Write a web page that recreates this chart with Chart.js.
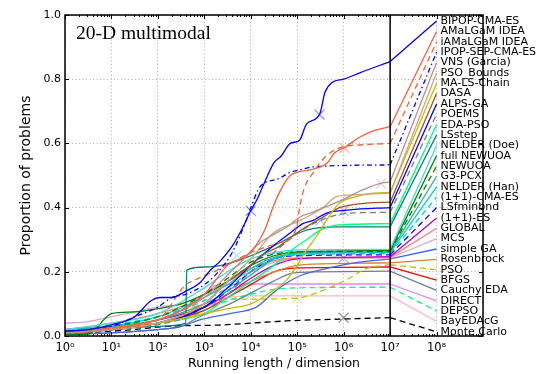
<!DOCTYPE html>
<html><head><meta charset="utf-8">
<script src="https://cdn.jsdelivr.net/npm/chart.js@4.4.0/dist/chart.umd.min.js"></script>
<style>html,body{margin:0;padding:0;background:#fff}#wrap{width:544px;height:374px;position:relative}</style>
</head><body><div id="wrap"><canvas id="c" width="544" height="374"></canvas></div>
<script>
// ---------------- data ----------------
const panelTitle = "20-D multimodal";
const xAxisTitle = "Running length / dimension";
const yAxisTitle = "Proportion of problems";
const xTickExponents = [0,1,2,3,4,5,6,7,8];
const yTickValues = [0,0.2,0.4,0.6,0.8,1.0];

const algorithms = ["BIPOP-CMA-ES","AMaLGaM IDEA","iAMaLGaM IDEA","IPOP-SEP-CMA-ES","VNS (Garcia)","PSO_Bounds","MA-LS-Chain","DASA","ALPS-GA","POEMS","EDA-PSO","LSstep","NELDER (Doe)","full NEWUOA","NEWUOA","G3-PCX","NELDER (Han)","(1+1)-CMA-ES","LSfminbnd","(1+1)-ES","GLOBAL","MCS","simple GA","Rosenbrock","PSO","BFGS","Cauchy EDA","DIRECT","DEPSO","BayEDAcG","Monte Carlo"];

// each entry: [log10(evaluations/dimension), proportion]
const BIPOP = [[0,.015],[0.5,.02],[1,.035],[1.5,.06],[1.85,.11],[2.05,.12],[2.3,.12],[2.6,.14],[2.9,.165],[3.1,.2],[3.35,.235],[3.6,.28],[3.8,.33],[4,.39],[4.15,.43],[4.3,.48],[4.5,.54],[4.65,.56],[4.85,.6],[5.05,.61],[5.2,.66],[5.48,.69],[5.6,.76],[5.75,.79],[6,.80],[6.35,.82],[7,.855]];
const AMALGAM = [[0,.015],[1,.025],[2,.05],[2.5,.08],[3,.13],[3.5,.22],[3.9,.25],[4.1,.28],[4.3,.33],[4.5,.41],[4.7,.47],[4.85,.5],[5,.51],[5.35,.52],[5.65,.54],[5.8,.57],[6.05,.59],[6.35,.62],[6.65,.64],[7,.652]];
const IAMALGAM = [[0,.015],[1,.025],[2,.05],[2.6,.16],[2.8,.175],[3.2,.2],[3.6,.23],[4,.26],[4.6,.29],[4.9,.31],[5,.35],[5.05,.40],[5.15,.46],[5.35,.51],[5.55,.55],[5.7,.57],[6,.59],[6.35,.595],[7,.60]];
const IPOPSEP = [[0,.015],[1,.03],[1.5,.06],[2,.09],[2.3,.12],[2.6,.13],[3,.16],[3.3,.2],[3.6,.26],[3.9,.36],[4,.40],[4.2,.465],[4.6,.49],[4.85,.51],[5.05,.517],[5.35,.527],[7,.533]];
const VNS = [[0,.01],[1,.02],[2,.05],[3,.12],[3.5,.19],[3.9,.247],[4.19,.29],[4.48,.315],[4.84,.346],[5.05,.37],[5.41,.39],[5.91,.42],[6.41,.455],[6.77,.475],[7,.48]];
const PSOBOUNDS = [[0,.01],[1,.02],[2,.04],[3,.1],[3.5,.17],[4,.24],[4.48,.32],[4.9,.35],[5.2,.37],[5.55,.40],[5.85,.434],[6.3,.44],[7,.445]];
const MALSCHAIN = [[0,.01],[1,.02],[2,.04],[3,.07],[3.5,.085],[4,.10],[4.4,.134],[4.77,.175],[5,.22],[5.12,.25],[5.41,.31],[5.63,.36],[5.91,.414],[6.27,.434],[6.63,.445],[7,.447]];
const DASA = [[0,.01],[1,.02],[2,.04],[3,.1],[3.5,.17],[4,.22],[4.19,.247],[4.62,.28],[4.98,.32],[5.55,.37],[5.91,.40],[6.49,.414],[7,.417]];
const ALPSGA = [[0,.01],[1,.02],[2,.04],[3,.09],[3.5,.15],[4,.22],[4.48,.28],[4.84,.32],[5.12,.35],[5.34,.36],[5.63,.383],[6.13,.393],[7,.40]];
const POEMS = [[0,.01],[1,.02],[2,.035],[3,.08],[3.5,.13],[4,.2],[4.5,.26],[5,.32],[5.5,.36],[6.13,.383],[7,.385]];
const EDAPSO = [[0,.01],[1,.02],[2,.04],[3,.07],[3.5,.12],[4,.17],[4.5,.22],[4.9,.27],[5.2,.30],[5.5,.33],[5.9,.346],[7,.35]];
const LSSTEP = [[0,.01],[1,.02],[2,.03],[2.6,.04],[2.62,.205],[3,.215],[3.5,.225],[4,.25],[4.48,.28],[5.2,.33],[5.9,.34],[7,.34]];
const NELDERDOE = [[0,.02],[1,.04],[2,.07],[3,.15],[3.5,.2],[4,.24],[4.5,.26],[5,.268],[7,.27]];
const FULLNEWUOA = [[0,.005],[0.5,.006],[0.9,.06],[1,.07],[1.5,.075],[2,.085],[2.5,.1],[3,.13],[3.5,.17],[4,.22],[4.5,.25],[5,.262],[7,.266]];
const NEWUOA = [[0,.01],[1,.03],[2,.06],[3,.13],[3.5,.18],[4,.23],[4.5,.255],[5,.262],[7,.264]];
const G3PCX = [[0,.02],[1,.03],[2,.05],[3,.1],[3.5,.14],[4,.19],[4.5,.24],[5,.258],[7,.262]];
const NELDERHAN = [[0,.015],[1,.03],[2,.06],[3,.12],[3.5,.16],[4,.21],[4.5,.245],[5,.255],[7,.26]];
const CMAES11 = [[0,.02],[1,.035],[2,.06],[3,.11],[3.5,.15],[4,.2],[4.5,.24],[5,.252],[7,.257]];
const LSFMINBND = [[0,.01],[1,.02],[2,.04],[3,.09],[3.5,.14],[4,.2],[4.5,.24],[5,.25],[7,.253]];
const ES11 = [[0,.01],[1,.02],[2,.05],[3,.09],[3.5,.13],[4,.18],[4.5,.22],[5,.24],[6,.245],[7,.247]];
const GLOBAL = [[0,.02],[1,.04],[2,.07],[3,.12],[3.5,.17],[4,.21],[4.5,.235],[5,.243],[7,.245]];
const MCS = [[0,.04],[0.5,.045],[1,.06],[1.5,.075],[2,.09],[2.5,.1],[3,.13],[3.5,.17],[4,.2],[4.5,.23],[5,.24],[7,.243]];
const SIMPLEGA = [[0,.005],[1,.01],[2,.02],[2.5,.03],[2.9,.05],[3.55,.07],[4.12,.09],[4.48,.134],[4.77,.165],[5.1,.19],[5.48,.205],[6.2,.227],[7,.24]];
const ROSENBROCK = [[0,.01],[1,.02],[2,.04],[3,.09],[3.5,.13],[4,.17],[4.5,.2],[5,.22],[6,.226],[7,.228]];
const PSO = [[0,.01],[1,.03],[2,.06],[3,.1],[3.3,.112],[4,.115],[5,.118],[5.48,.138],[6.06,.175],[6.49,.21],[7,.222]];
const BFGS = [[0,.01],[1,.02],[2,.04],[3,.08],[3.5,.12],[4,.16],[4.5,.2],[5,.212],[7,.215]];
const CAUCHYEDA = [[0,.005],[1,.01],[2,.02],[2.5,.03],[2.9,.06],[3.55,.1],[4.12,.143],[4.48,.17],[4.9,.196],[5.48,.2],[7,.202]];
const DIRECT = [[0,.01],[1,.02],[2,.05],[2.5,.08],[3,.13],[3.3,.16],[4,.162],[7,.162]];
const DEPSO = [[0,.01],[1,.02],[2,.04],[3,.08],[3.5,.11],[4,.13],[4.5,.145],[5,.15],[7,.152]];
const BAYEDACG = [[0,.01],[1,.02],[2,.04],[2.5,.07],[3,.1],[3.5,.12],[4,.125],[7,.125]];
const MONTECARLO = [[0,.008],[1,.015],[1.5,.02],[2,.028],[2.5,.032],[3.3,.034],[4,.04],[4.77,.047],[6,.053],[7,.057]];

const seriesData = [BIPOP,AMALGAM,IAMALGAM,IPOPSEP,VNS,PSOBOUNDS,MALSCHAIN,DASA,ALPSGA,POEMS,EDAPSO,LSSTEP,NELDERDOE,FULLNEWUOA,NEWUOA,G3PCX,NELDERHAN,CMAES11,LSFMINBND,ES11,GLOBAL,MCS,SIMPLEGA,ROSENBROCK,PSO,BFGS,CAUCHYEDA,DIRECT,DEPSO,BAYEDACG,MONTECARLO];

// median-marker crosses: series index, log10 x, proportion
const crossSeries = [0,3,1,4,7,5,22,19,6,24,30,10,17];
const crossLogX   = [5.48,4.0,6.02,6.8,6.0,5.0,5.5,6.0,5.0,5.0,6.0,4.0,3.7];
const crossY      = [0.69,0.39,0.585,0.475,0.39,0.346,0.36,0.243,0.215,0.118,0.057,0.128,0.25];

// ---------------- styles ----------------
const SOLID=[], DASH=[6,4], DASHDOT=[5,3,1.5,3];
const styles = [
 ['#0000ff',SOLID],['#f8603c',SOLID],['#f8603c',DASH],['#0000ff',DASHDOT],['#bc8f8f',SOLID],
 ['#d2a679',SOLID],['#c0c000',SOLID],['#a0522d',SOLID],['#0000ff',SOLID],['#708090',DASH],
 ['#00ff7f',SOLID],['#008080',SOLID],['#40e0d0',SOLID],['#008000',SOLID],['#008000',DASH],
 ['#20b2aa',SOLID],['#00ced1',SOLID],['#00ced1',DASH],['#0000ff',DASH],['#c000c0',SOLID],
 ['#fa8072',SOLID],['#d8a8d8',SOLID],['#4169e1',SOLID],['#cd853f',SOLID],['#c0c000',DASH],
 ['#ff0000',SOLID],['#708090',SOLID],['#ee82ee',SOLID],['#00ff7f',DASH],['#ffb6c1',SOLID],
 ['#000000',DASH]
];
const LABEL_TOP = 0.981, LABEL_STEP = 0.03227;   // layout of the right-hand legend
const labelValue = i => LABEL_TOP - i*LABEL_STEP;

const datasets = [];
seriesData.forEach((s,i)=>{
  datasets.push({
    label: algorithms[i],
    data: s.map(p=>({x:Math.pow(10,p[0]), y:p[1]})),
    borderColor: styles[i][0], borderDash: styles[i][1], borderWidth: 1.3,
    pointRadius: 0, fill:false, cubicInterpolationMode:'monotone'
  });
});
seriesData.forEach((s,i)=>{
  const last = s[s.length-1];
  datasets.push({
    label: algorithms[i]+' legend',
    data: [{x:Math.pow(10,last[0]), y:last[1]},{x:1e8, y:labelValue(i)}],
    borderColor: styles[i][0], borderDash: styles[i][1], borderWidth: 1.3,
    pointRadius: 0, fill:false, tension:0
  });
});
crossSeries.forEach((si,k)=>{
  datasets.push({
    type:'scatter', label:'median', data:[{x:Math.pow(10,crossLogX[k]), y:crossY[k]}],
    pointStyle:'crossRot', pointRadius:7, borderWidth:1.2,
    borderColor: styles[si][0]+'70', backgroundColor:'transparent', showLine:false
  });
});

const L=65, R=483, T=15, B=336;
const decorPlugin = {
  id:'decor',
  afterDraw(chart){
    const ctx=chart.ctx, xs=chart.scales.x, ys=chart.scales.y, a=chart.chartArea;
    ctx.save();
    ctx.strokeStyle='#000'; ctx.lineWidth=1;
    ctx.beginPath();
    for(let d=0; d<9; d++){
      for(let k=1;k<10;k++){
        const px=Math.round(xs.getPixelForValue(k*Math.pow(10,d)))+0.5;
        const len = k===1?4:2;
        ctx.moveTo(px,a.bottom); ctx.lineTo(px,a.bottom-len);
        ctx.moveTo(px,a.top); ctx.lineTo(px,a.top+len);
      }
    }
    yTickValues.forEach(v=>{
      const py=Math.round(ys.getPixelForValue(v))+0.5;
      ctx.moveTo(a.left,py); ctx.lineTo(a.left+4,py);
      ctx.moveTo(a.right,py); ctx.lineTo(a.right-4,py);
    });
    ctx.stroke();
    ctx.lineWidth=1.5;
    ctx.strokeRect(a.left,a.top,a.right-a.left,a.bottom-a.top);
    const x7=xs.getPixelForValue(1e7);
    ctx.beginPath(); ctx.moveTo(x7,a.top); ctx.lineTo(x7,a.bottom); ctx.stroke();
    ctx.fillStyle='#000'; ctx.font='11px "DejaVu Sans"'; ctx.textBaseline='middle'; ctx.textAlign='left';
    const x8=xs.getPixelForValue(1e8);
    algorithms.forEach((n,i)=>{ ctx.fillText(n, x8+4, ys.getPixelForValue(labelValue(i))); });
    ctx.font='19.5px "Liberation Serif"'; ctx.textBaseline='alphabetic';
    ctx.fillText(panelTitle, a.left+11, a.top+24);
    ctx.restore();
  }
};

const sup = {'0':'⁰','1':'¹','2':'²','3':'³','4':'⁴','5':'⁵','6':'⁶','7':'⁷','8':'⁸','9':'⁹'};
new Chart(document.getElementById('c'),{
  type:'line',
  data:{datasets},
  options:{
    responsive:false, animation:false, devicePixelRatio:1,
    layout:{padding:{left:0,right:544-R,top:T,bottom:0}},
    plugins:{legend:{display:false}, tooltip:{enabled:false}},
    scales:{
      x:{type:'logarithmic', min:1, max:1e9,
        afterBuildTicks(s){ s.ticks = xTickExponents.concat([9]).map(e=>({value:Math.pow(10,e)})); },
        afterFit(s){ s.height = 374-B; },
        ticks:{color:'#000', font:{family:'DejaVu Sans', size:11.5}, padding:5, maxRotation:0, autoSkip:false,
          callback(v){ const e=Math.round(Math.log10(v)); return xTickExponents.includes(e) ? '10'+String(e).split('').map(c=>sup[c]).join('') : ''; }},
        grid:{color:'#9a9a9a', lineWidth:0.8, drawTicks:false},
        border:{display:false, dash:[1,2.5]},
        title:{display:true, text:xAxisTitle, color:'#000', font:{family:'DejaVu Sans', size:12.5}, padding:{top:0,bottom:3}}
      },
      y:{type:'linear', min:0, max:1,
        afterBuildTicks(s){ s.ticks = yTickValues.map(v=>({value:v})); },
        afterFit(s){ s.width = L; },
        ticks:{color:'#000', font:{family:'DejaVu Sans', size:11}, padding:4, callback(v){ return v.toFixed(1); }},
        grid:{color:'#9a9a9a', lineWidth:0.8, drawTicks:false},
        border:{display:false, dash:[1,2.5]},
        title:{display:true, text:yAxisTitle, color:'#000', font:{family:'DejaVu Sans', size:14}, padding:{top:18,bottom:0}}
      }
    }
  },
  plugins:[decorPlugin]
});
</script></body></html>
